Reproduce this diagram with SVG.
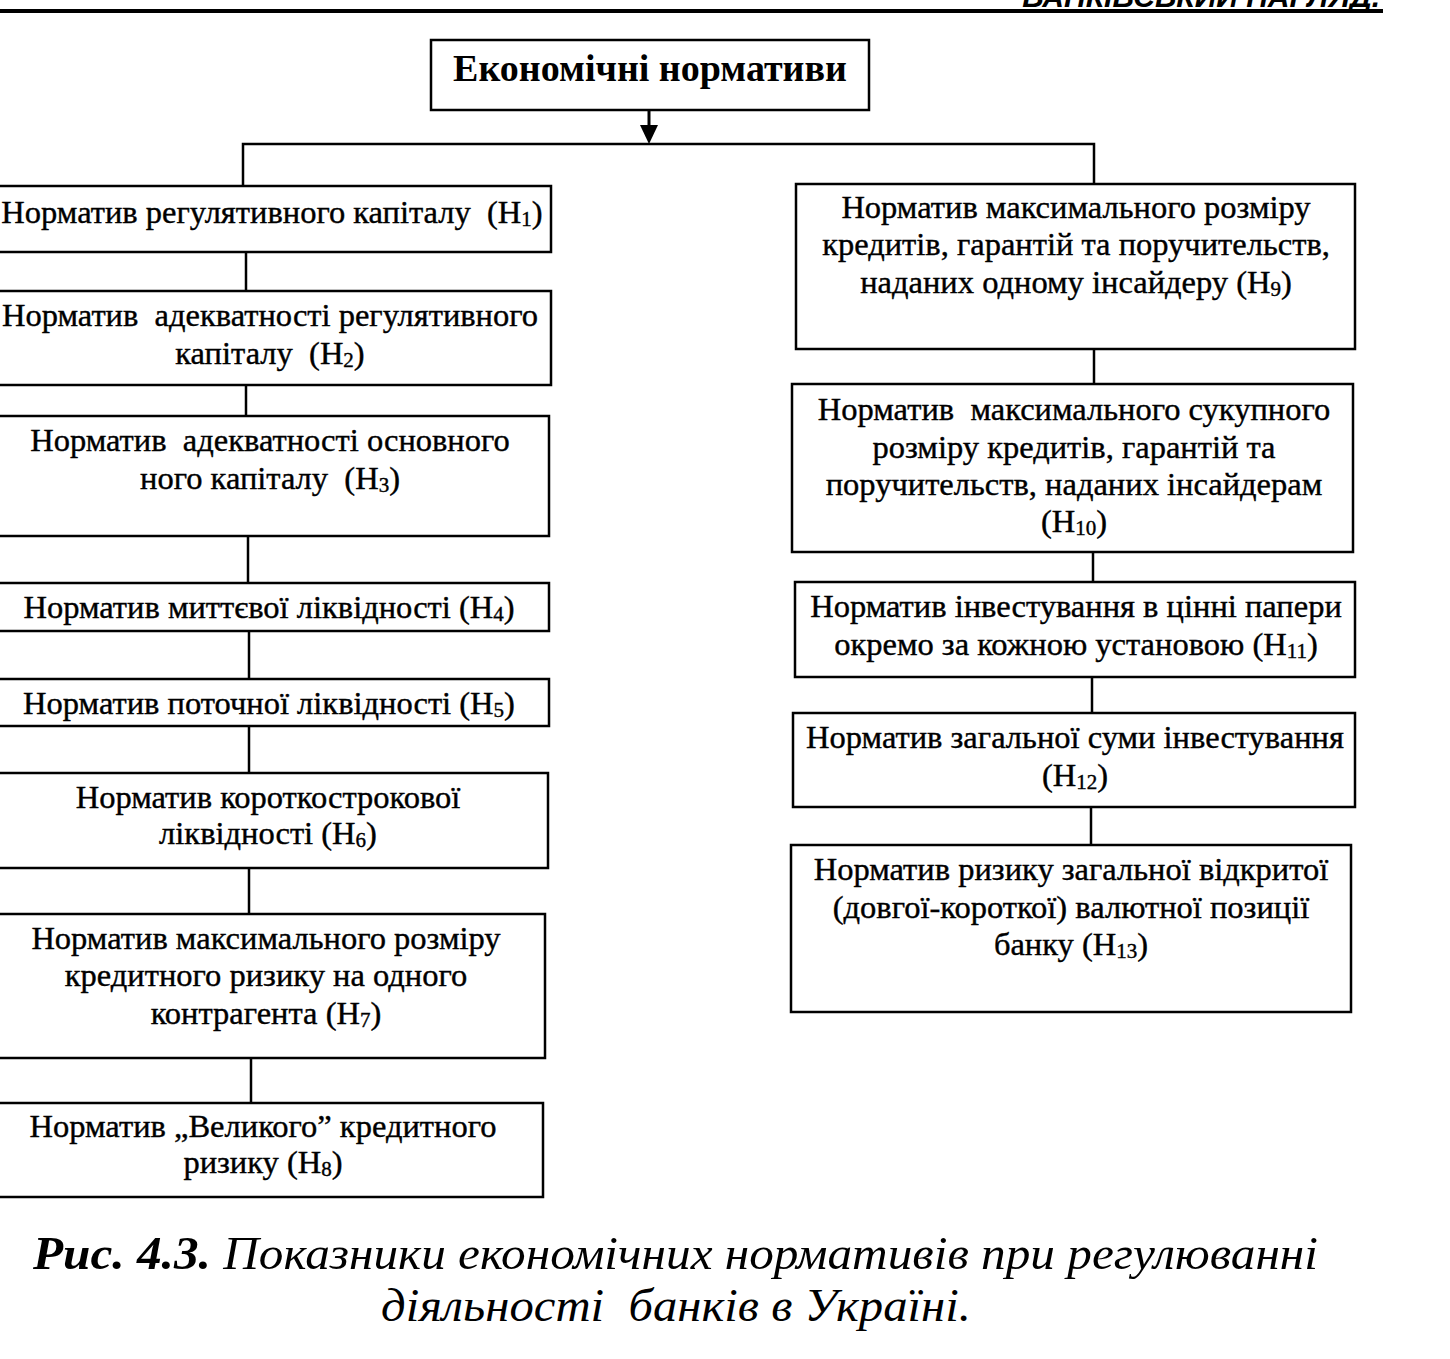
<svg xmlns="http://www.w3.org/2000/svg" width="1450" height="1359" viewBox="0 0 1450 1359">
<style>
.box{fill:#fff;stroke:#000;stroke-width:2.5}
.t{font-family:"Liberation Serif","Times New Roman",serif;font-size:32.5px;fill:#000;stroke:#000;stroke-width:0.4;text-anchor:middle}
.s{font-size:21px}
.ttl{font-family:"Liberation Serif","Times New Roman",serif;font-size:38px;font-weight:bold;fill:#000;text-anchor:middle}
.ln{stroke:#000;stroke-width:2.5;fill:none}
.cap{font-family:"Liberation Serif","Times New Roman",serif;font-size:47px;font-style:italic;fill:#000}
</style>
<rect width="1450" height="1359" fill="#fff"/>
<g id="header">
<text x="1380" y="7" font-family="Liberation Sans,Arial,sans-serif" font-size="30" font-weight="bold" font-style="italic" text-anchor="end">БАНКІВСЬКИЙ НАГЛЯД.</text>
<line x1="0" y1="11" x2="1383" y2="11" stroke="#000" stroke-width="4"/>
</g>
<g id="connectors">
<line class="ln" x1="649" y1="110" x2="649" y2="126" style="stroke-width:3"/>
<polygon points="640,125 658,125 649,144" fill="#000"/>
<polyline class="ln" points="243,186 243,144 1094,144 1094,184"/>
<line class="ln" x1="246" y1="252" x2="246" y2="291"/>
<line class="ln" x1="246" y1="385" x2="246" y2="416"/>
<line class="ln" x1="248" y1="536" x2="248" y2="583"/>
<line class="ln" x1="249" y1="631" x2="249" y2="679"/>
<line class="ln" x1="249" y1="726" x2="249" y2="773"/>
<line class="ln" x1="249" y1="868" x2="249" y2="914"/>
<line class="ln" x1="251" y1="1058" x2="251" y2="1103"/>
<line class="ln" x1="1094" y1="349" x2="1094" y2="384"/>
<line class="ln" x1="1093" y1="552" x2="1093" y2="582"/>
<line class="ln" x1="1092" y1="677" x2="1092" y2="713"/>
<line class="ln" x1="1091" y1="807" x2="1091" y2="845"/>
</g>
<g id="root">
<rect class="box" x="431" y="40" width="438" height="70"/>
<text class="ttl" x="650" y="81">Економічні нормативи</text>
</g>
<g id="h1">
<rect class="box" x="-8" y="186" width="559" height="66"/>
<text class="t" x="272" y="223">Норматив регулятивного капіталу &#160;(Н<tspan class="s" dy="3">1</tspan><tspan dy="-3">)</tspan></text>
</g>
<g id="h2">
<rect class="box" x="-8" y="291" width="559" height="94"/>
<text class="t" x="270" y="326">Норматив &#160;адекватності регулятивного</text>
<text class="t" x="270" y="364">капіталу &#160;(Н<tspan class="s" dy="3">2</tspan><tspan dy="-3">)</tspan></text>
</g>
<g id="h3">
<rect class="box" x="-8" y="416" width="557" height="120"/>
<text class="t" x="270" y="451">Норматив &#160;адекватності основного</text>
<text class="t" x="270" y="489">ного капіталу &#160;(Н<tspan class="s" dy="3">3</tspan><tspan dy="-3">)</tspan></text>
</g>
<g id="h4">
<rect class="box" x="-8" y="583" width="557" height="48"/>
<text class="t" x="269" y="618">Норматив миттєвої ліквідності (Н<tspan class="s" dy="3">4</tspan><tspan dy="-3">)</tspan></text>
</g>
<g id="h5">
<rect class="box" x="-8" y="679" width="557" height="47"/>
<text class="t" x="269" y="714">Норматив поточної ліквідності (Н<tspan class="s" dy="3">5</tspan><tspan dy="-3">)</tspan></text>
</g>
<g id="h6">
<rect class="box" x="-8" y="773" width="556" height="95"/>
<text class="t" x="268" y="808">Норматив короткострокової</text>
<text class="t" x="268" y="844">ліквідності (Н<tspan class="s" dy="3">6</tspan><tspan dy="-3">)</tspan></text>
</g>
<g id="h7">
<rect class="box" x="-8" y="914" width="553" height="144"/>
<text class="t" x="266" y="949">Норматив максимального розміру</text>
<text class="t" x="266" y="986">кредитного ризику на одного</text>
<text class="t" x="266" y="1024">контрагента (Н<tspan class="s" dy="3">7</tspan><tspan dy="-3">)</tspan></text>
</g>
<g id="h8">
<rect class="box" x="-8" y="1103" width="551" height="94"/>
<text class="t" x="263" y="1137">Норматив „Великого” кредитного</text>
<text class="t" x="263" y="1173">ризику (Н<tspan class="s" dy="3">8</tspan><tspan dy="-3">)</tspan></text>
</g>
<g id="h9">
<rect class="box" x="796" y="184" width="559" height="165"/>
<text class="t" x="1076" y="218">Норматив максимального розміру</text>
<text class="t" x="1076" y="255">кредитів, гарантій та поручительств,</text>
<text class="t" x="1076" y="293">наданих одному інсайдеру (Н<tspan class="s" dy="3">9</tspan><tspan dy="-3">)</tspan></text>
</g>
<g id="h10">
<rect class="box" x="792" y="384" width="561" height="168"/>
<text class="t" x="1074" y="420">Норматив &#160;максимального сукупного</text>
<text class="t" x="1074" y="458">розміру кредитів, гарантій та</text>
<text class="t" x="1074" y="495">поручительств, наданих інсайдерам</text>
<text class="t" x="1074" y="532">(Н<tspan class="s" dy="3">10</tspan><tspan dy="-3">)</tspan></text>
</g>
<g id="h11">
<rect class="box" x="795" y="582" width="560" height="95"/>
<text class="t" x="1076" y="617">Норматив інвестування в цінні папери</text>
<text class="t" x="1076" y="655">окремо за кожною установою (Н<tspan class="s" dy="3">11</tspan><tspan dy="-3">)</tspan></text>
</g>
<g id="h12">
<rect class="box" x="793" y="713" width="562" height="94"/>
<text class="t" x="1075" y="748">Норматив загальної суми інвестування</text>
<text class="t" x="1075" y="786">(Н<tspan class="s" dy="3">12</tspan><tspan dy="-3">)</tspan></text>
</g>
<g id="h13">
<rect class="box" x="791" y="845" width="560" height="167"/>
<text class="t" x="1071" y="880">Норматив ризику загальної відкритої</text>
<text class="t" x="1071" y="918">(довгої-короткої) валютної позиції</text>
<text class="t" x="1071" y="955">банку (Н<tspan class="s" dy="3">13</tspan><tspan dy="-3">)</tspan></text>
</g>
<g id="caption">
<text class="cap" x="33" y="1269" textLength="1285" lengthAdjust="spacingAndGlyphs"><tspan font-weight="bold">Рис. 4.3.</tspan> Показники економічних нормативів при регулюванні</text>
<text class="cap" x="381" y="1321" textLength="590" lengthAdjust="spacingAndGlyphs">діяльності &#160;банків в Україні.</text>
</g>
</svg>
